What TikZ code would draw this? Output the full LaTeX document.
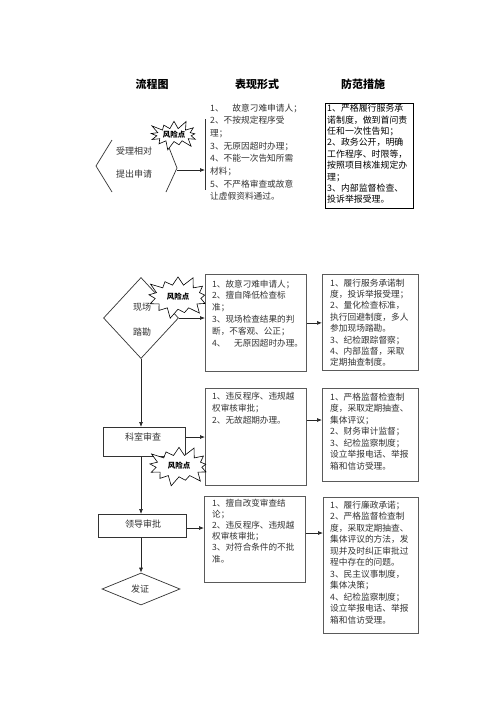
\documentclass[tikz,border=0pt]{standalone}
\usepackage{fontspec}
\setmainfont{Noto Sans CJK SC}
\usetikzlibrary{shapes.geometric,shapes.symbols,arrows.meta,calc}
\definecolor{txt}{HTML}{333333}
\definecolor{ln}{HTML}{5A5A5A}
\tikzset{
 body/.style={text=txt, align=left, anchor=north west, inner sep=0pt},
 head/.style={font=\fontsize{11}{13}\selectfont\bfseries, text=black, inner sep=0pt},
 box/.style={draw=ln, line width=0.8pt, anchor=north west, inner sep=0pt},
 arr/.style={draw=black!85, line width=0.7pt, -{Latex[length=5pt,width=4pt]}},
 plain/.style={draw=black!80, line width=0.7pt},
 risk/.style={starburst, starburst points=13, draw=black, fill=white, line width=0.6pt, font=\fontsize{7.5}{8}\selectfont\bfseries, inner sep=1pt, starburst point height=10pt},
 lab/.style={font=\fontsize{9}{11}\selectfont, text=txt, inner sep=0pt},
}
\begin{document}
\begin{tikzpicture}[x=1pt,y=-1pt]
\useasboundingbox[fill=white] (0,0) rectangle (496,702);
% headers
\node[head] (h1) at (152,84) {流程图};
\node[head] (h2) at (257,84) {表现形式};
\node[head] (h3) at (363,84) {防范措施};

% ---------- top section ----------
\draw[plain] (112,140) -- (96,166) -- (112,192);
\draw[plain] (166,140) -- (177,168) -- (166,192);
\coordinate (hexR) at (177,170);
\node[lab] (t1a) at (134,151) {受理相对};
\node[lab] (t1b) at (134,174) {提出申请};
\coordinate (vtop) at (205,119);
\coordinate (vbot) at (205,190);
\draw[plain] (vtop) -- (vbot);
\draw[arr] (hexR) -- (hexR -| vtop);
\node[body, font=\fontsize{8.7}{12.7}\selectfont] (p1) at (210,103.5) {1、　故意刁难申请人；\\2、不按规定程序受\\理；\\3、无原因超时办理；\\4、不能一次告知所需\\材料；\\5、不严格审查或故意\\让虚假资料通过。};
\node[box, draw=black, line width=1.3pt, minimum width=88pt, minimum height=105pt] (m1) at (325,103) {};
\node[body, font=\fontsize{8.9}{11.4}\selectfont, text=black] (m1t) at (327,104) {1、严格履行服务承\\诺制度，做到首问责\\任和一次性告知；\\2、政务公开，明确\\工作程序、时限等，\\按照项目核准规定办\\理；\\3、内部监督检查、\\投诉举报受理。};

% ---------- middle section ----------
\node[diamond, draw=black!80, line width=0.7pt, minimum width=75pt, minimum height=81pt, inner sep=0pt] (d1) at (141,318) {};
\node[lab] (d1a) at (142,307) {现场};
\node[lab] (d1b) at (142,332) {踏勘};
\node[box, minimum width=101pt, minimum height=97pt] (a2) at (205,274) {};
\node[body, font=\fontsize{8.6}{11.8}\selectfont] (a2t) at (212,279.5) {1、故意刁难申请人；\\2、擅自降低检查标\\准；\\3、现场检查结果的判\\断，不客观、公正；\\4、　无原因超时办理。};
\node[box, minimum width=96pt, minimum height=96pt] (a3) at (322,274) {};
\node[body, font=\fontsize{8.7}{11.4}\selectfont] (a3t) at (330,278.5) {1、履行服务承诺制\\度，投诉举报受理；\\2、量化检查标准，\\执行回避制度，多人\\参加现场踏勘。\\3、纪检跟踪督察；\\4、内部监督，采取\\定期抽查制度。};
\draw[arr] (d1.east) -- (d1.east -| a2.west);
\draw[arr] (a2.east) -- (a2.east -| a3.west);

\node[box, draw=black!80, minimum width=82pt, minimum height=29pt] (k1) at (103,427) {};
\node[lab] (k1t) at (143,437) {科室审查};
\node[box, minimum width=101pt, minimum height=97pt] (b2) at (205,388) {};
\node[body, font=\fontsize{8.6}{12}\selectfont] (b2t) at (212,392.5) {1、违反程序、违规越\\权审核审批；\\2、无故超期办理。};
\node[box, minimum width=96pt, minimum height=93pt] (b3) at (322,388) {};
\node[body, font=\fontsize{8.7}{11.5}\selectfont] (b3t) at (330,392.5) {1、严格监督检查制\\度，采取定期抽查、\\集体评议；\\2、财务审计监督；\\3、纪检监察制度；\\设立举报电话、举报\\箱和信访受理。};
\draw[arr] (d1.south) -- (d1.south |- k1.north);
\draw[arr] (k1.east |- k1t) -- (k1t -| b2.west);
\draw[arr] (b2.east |- 0,420) -- (b3.west |- 0,420);

% ---------- bottom section ----------
\node[box, draw=black!80, minimum width=88pt, minimum height=23pt] (l1) at (98,514) {};
\node[lab] (l1t) at (143,524) {领导审批};
\node[box, minimum width=101pt, minimum height=86pt] (c2) at (204,496) {};
\node[body, font=\fontsize{8.6}{11.2}\selectfont] (c2t) at (212,498.5) {1、擅自改变审查结\\论；\\2、违反程序、违规越\\权审核审批；\\3、对符合条件的不批\\准。};
\node[box, minimum width=95pt, minimum height=136pt] (c3) at (323,497) {};
\node[body, font=\fontsize{8.7}{11.5}\selectfont] (c3t) at (330,500.5) {1、履行廉政承诺；\\2、严格监督检查制\\度，采取定期抽查、\\集体评议的方法，发\\现并及时纠正审批过\\程中存在的问题。\\3、民主议事制度，\\集体决策；\\4、纪检监察制度；\\设立举报电话、举报\\箱和信访受理。};
\node[diamond, draw=black!80, line width=0.7pt, minimum width=78pt, minimum height=32pt, inner sep=0pt] (d2) at (141,589) {};
\node[lab] (d2t) at (140,589) {发证};
\draw[arr] (k1.south -| d1.south) -- (d1.south |- l1.north);
\draw[arr] (l1.east |- 0,528) -- (c2.west |- 0,528);
\draw[arr] (c2.east |- 0,533) -- (c3.west |- 0,533);
\draw[arr] (d1.south |- l1.south) -- (d2.north);

% risk stars
\node[risk, inner xsep=1pt, inner ysep=1pt] (s1) at (174,135) {风险点};
\node[risk, inner xsep=5pt, inner ysep=5pt, starburst point height=11pt] (s2) at (178,297) {风险点};
\node[risk, inner xsep=5pt, inner ysep=4pt, starburst point height=11pt] (s3) at (179,466) {风险点};
\end{tikzpicture}
\end{document}
